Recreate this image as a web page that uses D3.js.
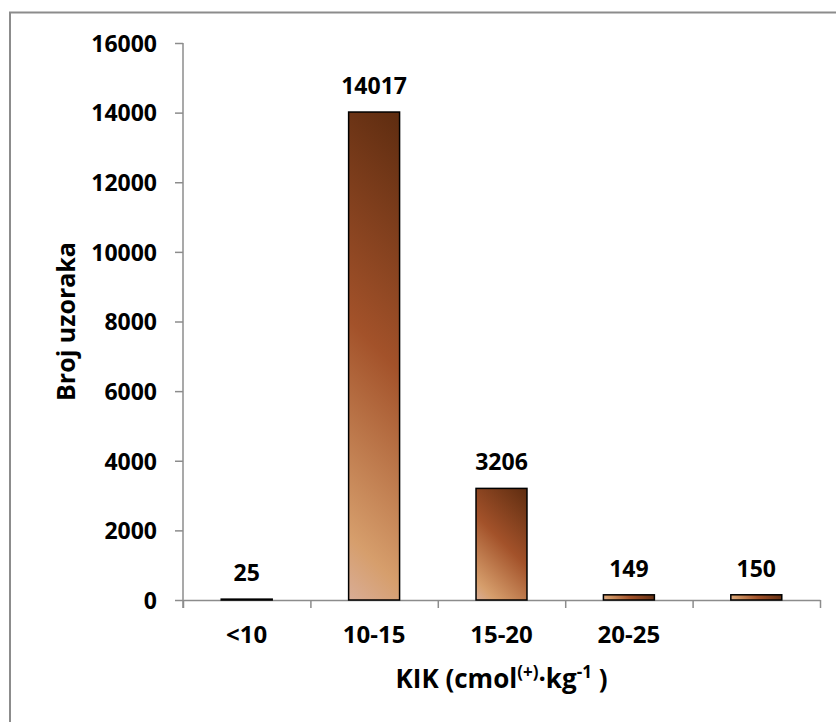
<!DOCTYPE html>
<html>
<head>
<meta charset="utf-8">
<script src="https://cdn.jsdelivr.net/npm/d3@7"></script>
<style>
  body { margin: 0; background: #fff; }
  svg text { font-family: "Open Sans", sans-serif; font-weight: bold; fill: #000; }
</style>
</head>
<body>
<svg id="chart" width="836" height="722"></svg>
<script>
// chart data
const categories = ["<10", "10-15", "15-20", "20-25", ""];
const counts = [25, 14017, 3206, 149, 150];
const yTicks = [0, 2000, 4000, 6000, 8000, 10000, 12000, 14000, 16000];

const svg = d3.select("#chart");
const plot = { left: 183, right: 820, top: 43, bottom: 600 };
const axisColor = "#8c8c8c";

// outer frame (runs off the right and bottom edges)
svg.append("rect")
  .attr("x", 10).attr("y", 12.5)
  .attr("width", 900).attr("height", 800)
  .attr("fill", "none")
  .attr("stroke", axisColor)
  .attr("stroke-width", 2);

const x = d3.scaleBand()
  .domain(categories.map((c, i) => i))
  .range([plot.left, plot.right])
  .paddingInner(0.6)
  .paddingOuter(0.3);

const y = d3.scaleLinear()
  .domain([0, 16000])
  .range([plot.bottom, plot.top]);

// one 45-degree gradient per bar, light bottom-left -> dark top-right
let defs = svg.append("defs");
let grads = defs.selectAll("linearGradient")
  .data(counts)
  .enter()
  .append("linearGradient")
  .attr("id", (d, i) => "barFill" + i)
  .attr("gradientUnits", "userSpaceOnUse")
  .attr("x1", (d, i) => x(i))
  .attr("y1", y(0))
  .attr("x2", (d, i) => x(i) + (x.bandwidth() + y(0) - y(d)) / 2)
  .attr("y2", d => y(0) - (x.bandwidth() + y(0) - y(d)) / 2);
grads.append("stop").attr("offset", "0").attr("stop-color", "#d9ad96");
grads.append("stop").attr("offset", "0.12").attr("stop-color", "#d69e6c");
grads.append("stop").attr("offset", "0.52").attr("stop-color", "#a3522a");
grads.append("stop").attr("offset", "1").attr("stop-color", "#5e2c10");

// y axis
let yAxis = svg.append("g")
  .attr("transform", `translate(${plot.left},0)`)
  .call(d3.axisLeft(y).tickValues(yTicks).tickFormat(d3.format("d"))
    .tickSize(8).tickSizeOuter(0).tickPadding(18));
yAxis.select(".domain").attr("stroke", axisColor).attr("stroke-width", 1.5)
  .attr("d", `M0,${plot.top}V${plot.bottom + 8}`);
yAxis.selectAll(".tick line").attr("stroke", axisColor).attr("stroke-width", 1.5);
yAxis.selectAll(".tick text").style("font-size", "23px").attr("dy", "0.36em");

// x axis: ticks on category boundaries
const xEdge = d3.scaleLinear().domain([0, categories.length]).range([plot.left, plot.right]);
let xAxis = svg.append("g")
  .attr("transform", `translate(0,${plot.bottom})`)
  .call(d3.axisBottom(xEdge).ticks(categories.length).tickSize(8).tickSizeOuter(0).tickFormat(""));
xAxis.select(".domain").attr("stroke", axisColor).attr("stroke-width", 1.5);
xAxis.selectAll(".tick line").attr("stroke", axisColor).attr("stroke-width", 1.5);

// category labels
svg.append("g").selectAll("text")
  .data(categories)
  .enter()
  .append("text")
  .attr("x", (d, i) => x(i) + x.bandwidth() / 2)
  .attr("y", 643)
  .attr("text-anchor", "middle")
  .style("font-size", "24px")
  .text(d => d);

// bars
svg.append("g").selectAll("rect")
  .data(counts)
  .enter()
  .append("rect")
  .attr("x", (d, i) => x(i))
  .attr("y", d => y(d))
  .attr("width", x.bandwidth())
  .attr("height", d => y(0) - y(d))
  .attr("fill", (d, i) => `url(#barFill${i})`)
  .attr("stroke", "#000")
  .attr("stroke-width", 1.5);

// value labels
svg.append("g").selectAll("text")
  .data(counts)
  .enter()
  .append("text")
  .attr("x", (d, i) => x(i) + x.bandwidth() / 2)
  .attr("y", d => y(d) - 18)
  .attr("text-anchor", "middle")
  .style("font-size", "23px")
  .text(d => d);

// axis titles
svg.append("text")
  .attr("transform", `translate(75,${(plot.top + plot.bottom) / 2}) rotate(-90)`)
  .attr("text-anchor", "middle")
  .style("font-size", "25px")
  .text("Broj uzoraka");

let xt = svg.append("text")
  .attr("x", (plot.left + plot.right) / 2)
  .attr("y", 688)
  .attr("text-anchor", "middle")
  .style("font-size", "26px");
xt.append("tspan").text("KIK (cmol");
xt.append("tspan").attr("dy", -10).style("font-size", "17px").text("(+)");
xt.append("tspan").attr("dy", 10).text("·kg");
xt.append("tspan").attr("dy", -10).style("font-size", "17px").text("-1");
xt.append("tspan").attr("dy", 10).text(" )");
</script>
</body>
</html>
